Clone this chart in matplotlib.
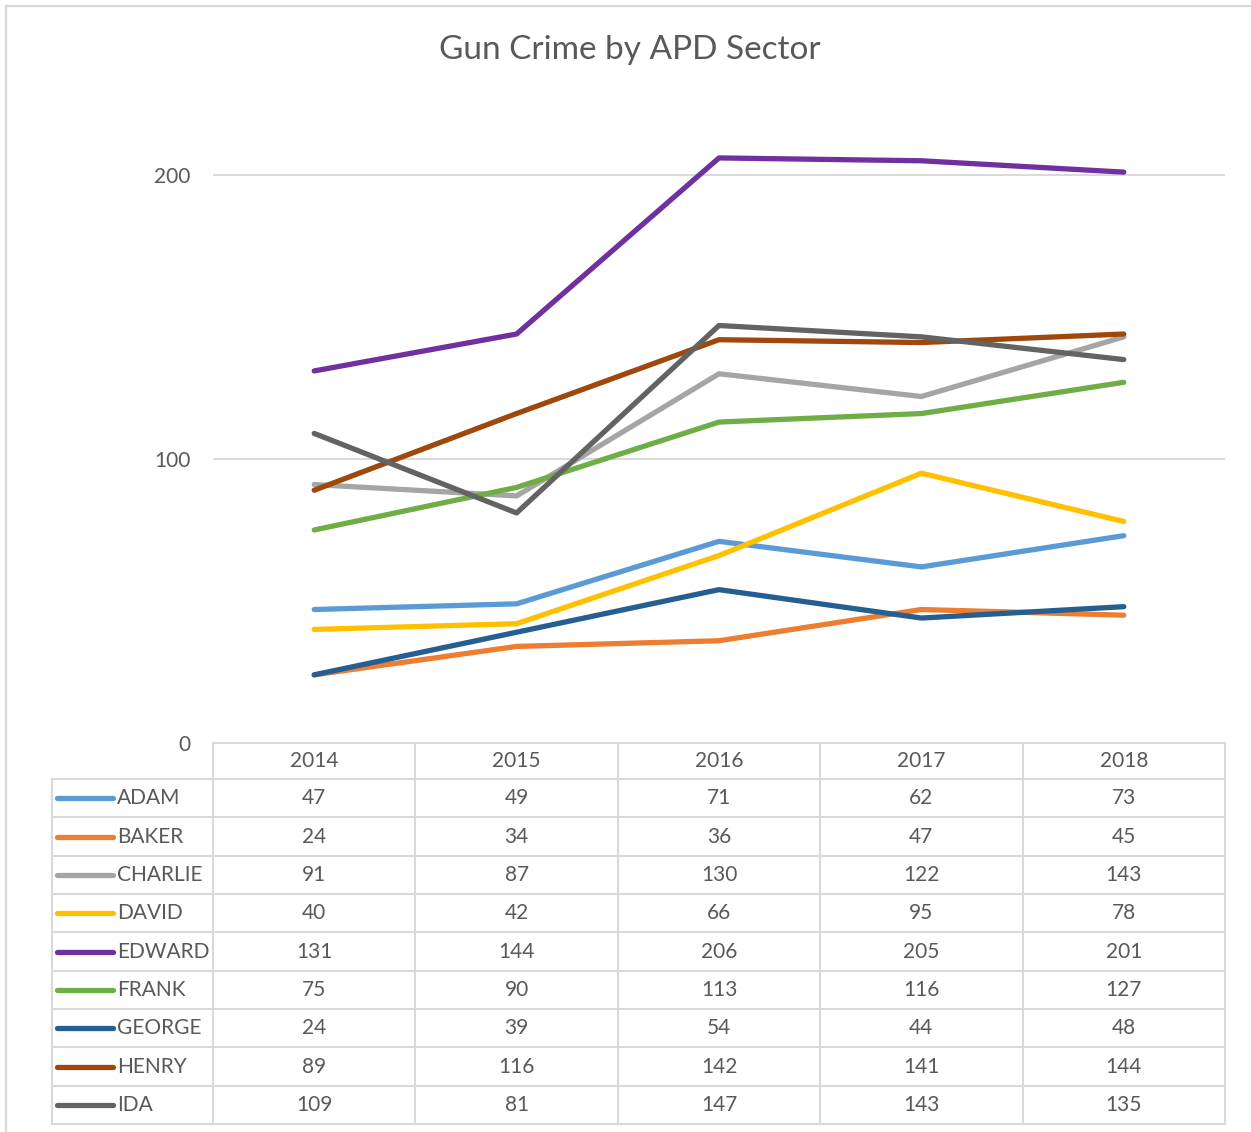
import numpy as np
import matplotlib.pyplot as plt
from matplotlib.lines import Line2D

plt.rcParams['font.family'] = ['Lato', 'DejaVu Sans']

YEARS = ["2014", "2015", "2016", "2017", "2018"]
SECTORS = ["ADAM", "BAKER", "CHARLIE", "DAVID", "EDWARD", "FRANK", "GEORGE", "HENRY", "IDA"]
ADAM = [47, 49, 71, 62, 73]
BAKER = [24, 34, 36, 47, 45]
CHARLIE = [91, 87, 130, 122, 143]
DAVID = [40, 42, 66, 95, 78]
EDWARD = [131, 144, 206, 205, 201]
FRANK = [75, 90, 113, 116, 127]
GEORGE = [24, 39, 54, 44, 48]
HENRY = [89, 116, 142, 141, 144]
IDA = [109, 81, 147, 143, 135]
COLORS = ["#5B9BD5", "#ED7D31", "#A5A5A5", "#FFC000", "#7030A0",
          "#70AD47", "#255E91", "#9E480E", "#636363"]

series = [ADAM, BAKER, CHARLIE, DAVID, EDWARD, FRANK, GEORGE, HENRY, IDA]
TEXT = "#595959"
GRID = "#D9D9D9"
W, H = 1251, 1132

fig = plt.figure(figsize=(W / 100, H / 100), dpi=100)

def box(l, t, r, b):
    return [l / W, 1 - b / H, (r - l) / W, (b - t) / H]

# line chart
ax = fig.add_axes(box(213, 146, 1225, 743))
x = np.arange(len(YEARS))
for vals, c in zip(series, COLORS):
    ax.plot(x, vals, color=c, lw=3.8, solid_capstyle='round', solid_joinstyle='round')
ax.set_xlim(-0.5, len(YEARS) - 0.5)
ax.set_ylim(0, 210.2)
ax.set_yticks([0, 100, 200])
ax.set_xticks([])
ax.tick_params(axis='y', length=0, pad=16, labelsize=15, labelcolor=TEXT)
for s in ax.spines.values():
    s.set_visible(False)
for yv in [100, 200]:
    ax.axhline(yv, color=GRID, lw=1.4, zorder=0)

fig.text(630 / W, 1 - 50 / H, "Gun Crime by APD Sector", ha='center', va='center',
         fontsize=24, color=TEXT)

# data table below the plot
tb = fig.add_axes(box(52, 743, 1225, 1124))
hdr = 36 / 38.33
xmin = -0.5 - 161 / 202.4
nrows = len(SECTORS)
tb.set_xlim(xmin, len(YEARS) - 0.5)
tb.set_ylim(hdr + nrows, 0)
tb.axis('off')

lk = dict(color=GRID, lw=1.5, clip_on=False, solid_capstyle='projecting')
for i in range(len(YEARS) + 1):
    tb.plot([i - 0.5, i - 0.5], [0, hdr + nrows], **lk)
tb.plot([xmin, xmin], [hdr, hdr + nrows], **lk)
tb.plot([-0.5, len(YEARS) - 0.5], [0, 0], **lk)
for j in range(nrows + 1):
    tb.plot([xmin, len(YEARS) - 0.5], [hdr + j, hdr + j], **lk)

for i, yr in enumerate(YEARS):
    tb.text(i, hdr / 2, yr, ha='center', va='center', fontsize=15, color=TEXT)

for j, (name, vals, c) in enumerate(zip(SECTORS, series, COLORS)):
    yc = hdr + j + 0.5
    tb.plot([xmin + 0.025, xmin + 0.300], [yc, yc], color=c, lw=3.8,
            solid_capstyle='round', clip_on=False)
    tb.text(xmin + 0.321, yc, name, ha='left', va='center', fontsize=15, color=TEXT)
    for i, v in enumerate(vals):
        tb.text(i, yc, str(v), ha='center', va='center', fontsize=15, color=TEXT)

# chart area border
fig.add_artist(Line2D([6 / W, 6 / W], [0, 1 - 6 / H], color=GRID, lw=1.6))
fig.add_artist(Line2D([6 / W, 1], [1 - 6 / H, 1 - 6 / H], color=GRID, lw=1.6))

fig.savefig("out.png", dpi=100, facecolor="white")
